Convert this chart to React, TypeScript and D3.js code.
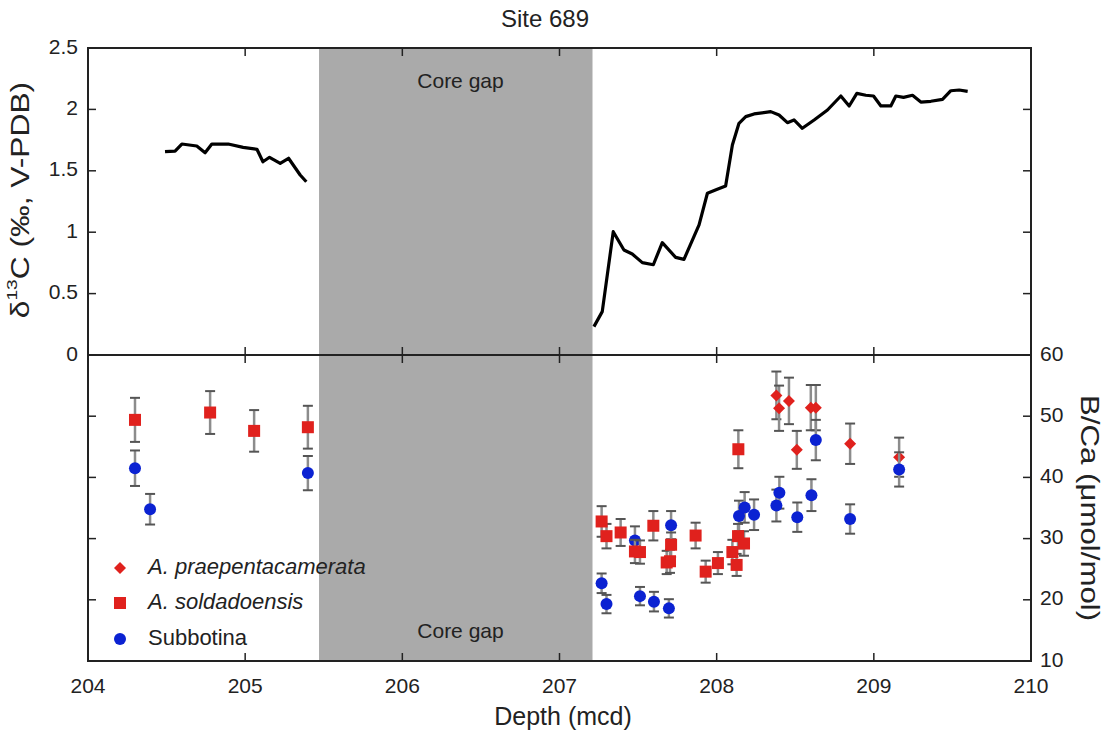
import React from "react";
import * as d3 from "d3";

// ---- Data ----
const preGapDepth = [204.49, 204.554, 204.597, 204.692, 204.745, 204.788, 204.892, 204.987, 205.075, 205.113, 205.155, 205.223, 205.276, 205.35, 205.389];
const preGapD13C = [1.656, 1.661, 1.718, 1.702, 1.647, 1.718, 1.718, 1.691, 1.675, 1.574, 1.61, 1.561, 1.602, 1.466, 1.411];

const postGapDepth = [207.219, 207.272, 207.342, 207.41, 207.463, 207.527, 207.597, 207.654, 207.739, 207.792, 207.888, 207.941, 208.004, 208.057, 208.1, 208.142, 208.185, 208.238, 208.344, 208.397, 208.45, 208.492, 208.545, 208.62, 208.705, 208.79, 208.843, 208.892, 208.949, 208.998, 209.045, 209.108, 209.14, 209.189, 209.246, 209.299, 209.363, 209.437, 209.49, 209.543, 209.597];
const postGapD13C = [0.231, 0.353, 1.004, 0.855, 0.822, 0.752, 0.735, 0.915, 0.795, 0.779, 1.059, 1.317, 1.349, 1.376, 1.71, 1.887, 1.941, 1.963, 1.982, 1.954, 1.892, 1.914, 1.846, 1.914, 1.995, 2.109, 2.028, 2.131, 2.115, 2.109, 2.028, 2.028, 2.109, 2.098, 2.115, 2.06, 2.066, 2.082, 2.152, 2.158, 2.147];

const praeDepth = [208.38, 208.397, 208.46, 208.51, 208.599, 208.631, 208.849, 209.161];
const praeBCa = [53.4, 51.3, 52.5, 44.5, 51.4, 51.4, 45.5, 43.3];
const praeErr = [3.9, 3.7, 3.8, 3.1, 3.7, 3.7, 3.3, 3.2];

const soldDepth = [204.299, 204.777, 205.057, 205.399, 207.268, 207.299, 207.389, 207.48, 207.512, 207.597, 207.682, 207.703, 207.71, 207.866, 207.93, 208.008, 208.1, 208.127, 208.136, 208.138, 208.174];
const soldBCa = [49.4, 50.6, 47.6, 48.2, 32.8, 30.4, 31.0, 27.9, 27.8, 32.1, 26.1, 26.3, 29.0, 30.5, 24.6, 26.0, 27.8, 25.7, 30.4, 44.6, 29.2];
const soldErr = [3.6, 3.5, 3.4, 3.5, 2.5, 2.0, 2.2, 1.9, 1.9, 2.4, 1.9, 1.9, 2.0, 2.1, 1.8, 1.8, 2.0, 1.8, 2.0, 3.1, 2.0];

const subDepth = [204.299, 204.395, 205.399, 207.268, 207.299, 207.48, 207.512, 207.601, 207.696, 207.71, 208.142, 208.178, 208.238, 208.38, 208.399, 208.513, 208.603, 208.631, 208.849, 209.161];
const subBCa = [41.5, 34.8, 40.7, 22.7, 19.3, 29.7, 20.6, 19.7, 18.6, 32.2, 33.7, 35.1, 33.9, 35.4, 37.5, 33.5, 37.1, 46.1, 33.2, 41.3];
const subErr = [2.9, 2.5, 2.8, 1.6, 1.5, 2.3, 1.5, 1.6, 1.5, 2.3, 2.5, 2.5, 2.5, 2.6, 2.6, 2.4, 2.6, 3.3, 2.4, 2.8];

const gapStart = 205.47;
const gapEnd = 207.21;

const xTicks = [204, 205, 206, 207, 208, 209, 210];
const topTicks = [0, 0.5, 1, 1.5, 2, 2.5];
const botTicks = [10, 20, 30, 40, 50, 60];

const legendLabels = ["A. praepentacamerata", "A. soldadoensis", "Subbotina"];

// ---- Styles ----
const RED = "#e0211d";
const BLUE = "#0b22d2";
const FONT = "Liberation Sans, Arial, Helvetica, sans-serif";

export default function App() {
  const L = 88, R = 1031, T = 48, M = 355, B = 661;
  const x = d3.scaleLinear().domain([204, 210]).range([L, R]);
  const yTop = d3.scaleLinear().domain([0, 2.5]).range([M, T]);
  const yBot = d3.scaleLinear().domain([10, 60]).range([B, M]);
  const tick = 8;

  const line = d3.line<[number, number]>().x((d) => x(d[0])).y((d) => yTop(d[1]));
  const pre = preGapDepth.map((d, i) => [d, preGapD13C[i]] as [number, number]);
  const post = postGapDepth.map((d, i) => [d, postGapD13C[i]] as [number, number]);

  const errBars = (depth: number[], val: number[], err: number[], key: string) =>
    depth.map((d, i) => {
      const cx = x(d);
      const y1 = yBot(val[i] + err[i]);
      const y2 = yBot(val[i] - err[i]);
      return (
        <g key={key + i}>
          <line x1={cx} x2={cx} y1={y1} y2={y2} stroke="#8c8c8c" strokeWidth={2.5} />
          <line x1={cx - 5} x2={cx + 5} y1={y1} y2={y1} stroke="#555" strokeWidth={2} />
          <line x1={cx - 5} x2={cx + 5} y1={y2} y2={y2} stroke="#555" strokeWidth={2} />
        </g>
      );
    });

  const diamond = (cx: number, cy: number, r: number) =>
    `M${cx},${cy - r}L${cx + r},${cy}L${cx},${cy + r}L${cx - r},${cy}Z`;

  const legendY = [568, 603, 639];

  return (
    <div style={{ position: "fixed", left: 0, top: 0 }}>
      <svg width={1112} height={736} style={{ display: "block", background: "#fff" }} fontFamily={FONT}>
        {/* core gap */}
        <rect x={x(gapStart)} y={T} width={x(gapEnd) - x(gapStart)} height={B - T} fill="#aaaaaa" />
        <text x={x(206.37)} y={82} fontSize={21} textAnchor="middle" dominantBaseline="middle" fill="#222">Core gap</text>
        <text x={x(206.37)} y={632} fontSize={21} textAnchor="middle" dominantBaseline="middle" fill="#222">Core gap</text>

        {/* d13C line */}
        <path d={line(pre) || ""} fill="none" stroke="#000" strokeWidth={3.2} strokeLinejoin="round" />
        <path d={line(post) || ""} fill="none" stroke="#000" strokeWidth={3.2} strokeLinejoin="round" />

        {/* B/Ca series */}
        {errBars(praeDepth, praeBCa, praeErr, "pe")}
        {praeDepth.map((d, i) => (
          <path key={"pd" + i} d={diamond(x(d), yBot(praeBCa[i]), 6)} fill={RED} />
        ))}
        {errBars(subDepth, subBCa, subErr, "se")}
        {subDepth.map((d, i) => (
          <circle key={"sc" + i} cx={x(d)} cy={yBot(subBCa[i])} r={6} fill={BLUE} />
        ))}
        {errBars(soldDepth, soldBCa, soldErr, "oe")}
        {soldDepth.map((d, i) => (
          <rect key={"os" + i} x={x(d) - 6} y={yBot(soldBCa[i]) - 6} width={12} height={12} fill={RED} />
        ))}

        {/* frames */}
        <rect x={L} y={T} width={R - L} height={M - T} fill="none" stroke="#222" strokeWidth={2} />
        <rect x={L} y={M} width={R - L} height={B - M} fill="none" stroke="#222" strokeWidth={2} />

        {/* x ticks on all horizontal edges */}
        {xTicks.map((t) => (
          <g key={"xt" + t}>
            <line x1={x(t)} x2={x(t)} y1={T} y2={T + tick} stroke="#222" strokeWidth={1.5} />
            <line x1={x(t)} x2={x(t)} y1={M} y2={M - tick} stroke="#222" strokeWidth={1.5} />
            <line x1={x(t)} x2={x(t)} y1={M} y2={M + tick} stroke="#222" strokeWidth={1.5} />
            <line x1={x(t)} x2={x(t)} y1={B} y2={B - tick} stroke="#222" strokeWidth={1.5} />
            <text x={x(t)} y={687} fontSize={21} textAnchor="middle" dominantBaseline="middle" fill="#222">{t}</text>
          </g>
        ))}

        {/* top y ticks */}
        {topTicks.map((t) => (
          <g key={"yt" + t}>
            <line x1={L} x2={L + tick} y1={yTop(t)} y2={yTop(t)} stroke="#222" strokeWidth={1.5} />
            <line x1={R} x2={R - tick} y1={yTop(t)} y2={yTop(t)} stroke="#222" strokeWidth={1.5} />
            <text x={78} y={yTop(t)} fontSize={21} textAnchor="end" dominantBaseline="middle" fill="#222">{String(t)}</text>
          </g>
        ))}

        {/* bottom y ticks */}
        {botTicks.map((t) => (
          <g key={"yb" + t}>
            <line x1={L} x2={L + tick} y1={yBot(t)} y2={yBot(t)} stroke="#222" strokeWidth={1.5} />
            <line x1={R} x2={R - tick} y1={yBot(t)} y2={yBot(t)} stroke="#222" strokeWidth={1.5} />
            <text x={1040} y={yBot(t)} fontSize={21} textAnchor="start" dominantBaseline="middle" fill="#222">{t}</text>
          </g>
        ))}

        {/* titles */}
        <text x={545} y={21} fontSize={24} textAnchor="middle" dominantBaseline="middle" fill="#222">Site 689</text>
        <text x={563} y={718} fontSize={25} textAnchor="middle" dominantBaseline="middle" fill="#222">Depth (mcd)</text>
        <text transform={`translate(22,${200}) rotate(-90) scale(1.27,1)`} fontSize={25} textAnchor="middle" dominantBaseline="middle" fill="#222">
          δ<tspan fontSize={15} dy={-9}>13</tspan><tspan dy={9}>C (‰, V-PDB)</tspan>
        </text>
        <text transform={`translate(1088,${508}) rotate(90) scale(1.25,1)`} fontSize={25} textAnchor="middle" dominantBaseline="middle" fill="#222">
          B/Ca (μmol/mol)
        </text>

        {/* legend */}
        <path d={diamond(120, legendY[0], 6)} fill={RED} />
        <rect x={114} y={legendY[1] - 6} width={12} height={12} fill={RED} />
        <circle cx={120} cy={legendY[2]} r={6} fill={BLUE} />
        {legendLabels.map((s, i) => (
          <text key={s} x={148} y={legendY[i]} fontSize={22} fontStyle={i < 2 ? "italic" : "normal"} dominantBaseline="middle" fill="#222">
            {s}
          </text>
        ))}
      </svg>
    </div>
  );
}
